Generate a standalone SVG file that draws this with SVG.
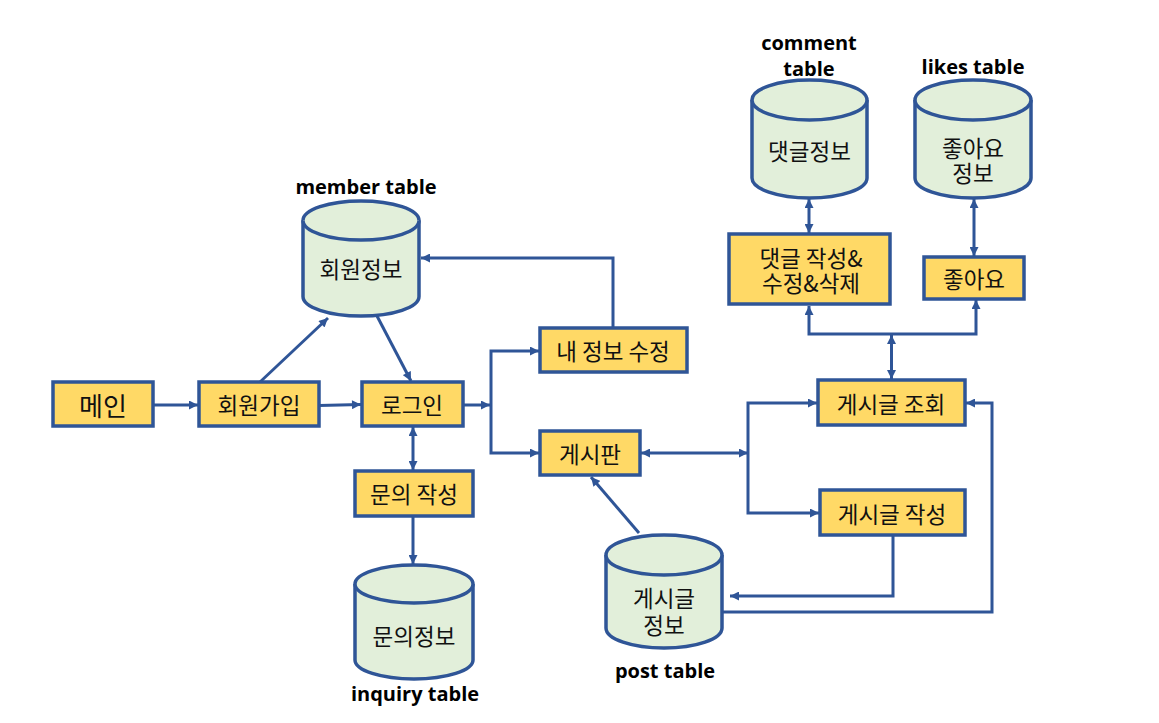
<svg xmlns="http://www.w3.org/2000/svg" width="1159" height="723" viewBox="0 0 1159 723">
<style>
.box{fill:#FFD966;stroke:#2F5597;stroke-width:3.5}
.cyl{fill:#E2EFDA;stroke:#2F5597;stroke-width:3.5}
.t{font-family:"Noto Sans CJK KR","Malgun Gothic",sans-serif;font-size:22.5px;fill:#111;text-anchor:middle;dominant-baseline:central}
.lbl{font-family:"Open Sans","Noto Sans",sans-serif;font-weight:bold;font-size:20px;fill:#000;text-anchor:middle;dominant-baseline:central}
.c{fill:none;stroke:#2F5597;stroke-width:3}
</style>
<defs>
<marker id="ah" viewBox="0 0 10 10" refX="10" refY="5" markerWidth="10" markerHeight="9" markerUnits="userSpaceOnUse" orient="auto-start-reverse">
<path d="M0,0 L10,5 L0,10 Z" fill="#2F5597"/>
</marker>
</defs>
<rect width="1159" height="723" fill="#fff"/>
<g id="connectors">
<path class="c" d="M153,405 H198" marker-end="url(#ah)"/>
<path class="c" d="M319,405.5 L361,404.5" marker-end="url(#ah)"/>
<path class="c" d="M260,382 L328,318" marker-end="url(#ah)"/>
<path class="c" d="M377,316 L411,381" marker-end="url(#ah)"/>
<path class="c" d="M463,405 H490" marker-end="url(#ah)"/>
<path class="c" d="M491,405 V351 H539" marker-end="url(#ah)"/>
<path class="c" d="M491,405 V453 H539" marker-end="url(#ah)"/>
<path class="c" d="M613,328 V258 H421" marker-end="url(#ah)"/>
<path class="c" d="M641,453 H748" marker-start="url(#ah)" marker-end="url(#ah)"/>
<path class="c" d="M748,453 V403 H817" marker-end="url(#ah)"/>
<path class="c" d="M748,453 V513 H819" marker-end="url(#ah)"/>
<path class="c" d="M893,535 V596 H730" marker-end="url(#ah)"/>
<path class="c" d="M722,612 H992 V403 H966" marker-end="url(#ah)"/>
<path class="c" d="M639,533 L591,477" marker-end="url(#ah)"/>
<path class="c" d="M413,427 V470" marker-start="url(#ah)" marker-end="url(#ah)"/>
<path class="c" d="M413,517 V564" marker-end="url(#ah)"/>
<path class="c" d="M891.5,335 V379" marker-start="url(#ah)" marker-end="url(#ah)"/>
<path class="c" d="M809,306 V334 H976 V300" marker-start="url(#ah)" marker-end="url(#ah)"/>
<path class="c" d="M809,199 V233" marker-start="url(#ah)" marker-end="url(#ah)"/>
<path class="c" d="M974,199 V256" marker-start="url(#ah)" marker-end="url(#ah)"/>
</g>
<g id="main">
<rect class="box" x="53" y="382" width="100" height="44"/>
<text class="t" x="103" y="404" style="font-size:26px">메인</text>
</g>
<g id="signup">
<rect class="box" x="199" y="382" width="120" height="44"/>
<text class="t" x="259" y="404">회원가입</text>
</g>
<g id="login">
<rect class="box" x="362" y="382" width="101" height="44"/>
<text class="t" x="412" y="404">로그인</text>
</g>
<g id="member-db">
<path class="cyl" d="M303,220.5 A58,19.5 0 0 1 419,220.5 V296.5 A58,19.5 0 0 1 303,296.5 Z"/>
<path class="cyl" d="M303,220.5 A58,19.5 0 0 0 419,220.5" fill="none"/>
<text class="t" x="361" y="268">회원정보</text>
<text class="lbl" x="366" y="186">member table</text>
</g>
<g id="edit-info">
<rect class="box" x="540" y="328" width="147" height="44"/>
<text class="t" x="613" y="350">내 정보 수정</text>
</g>
<g id="board">
<rect class="box" x="540" y="431" width="100" height="44"/>
<text class="t" x="590" y="453">게시판</text>
</g>
<g id="inquiry-write">
<rect class="box" x="355" y="471" width="118" height="45"/>
<text class="t" x="414" y="493">문의 작성</text>
</g>
<g id="inquiry-db">
<path class="cyl" d="M355,584 A59,19 0 0 1 473,584 V660 A59,19 0 0 1 355,660 Z"/>
<path class="cyl" d="M355,584 A59,19 0 0 0 473,584" fill="none"/>
<text class="t" x="414" y="635">문의정보</text>
<text class="lbl" x="415" y="693">inquiry table</text>
</g>
<g id="post-db">
<path class="cyl" d="M606,555 A58,20 0 0 1 722,555 V628 A58,20 0 0 1 606,628 Z"/>
<path class="cyl" d="M606,555 A58,20 0 0 0 722,555" fill="none"/>
<text class="t" x="664" y="597"><tspan x="664" y="597">게시글</tspan><tspan x="664" y="624">정보</tspan></text>
<text class="lbl" x="665" y="670">post table</text>
</g>
<g id="post-view">
<rect class="box" x="818" y="380" width="147" height="45"/>
<text class="t" x="891" y="403">게시글 조회</text>
</g>
<g id="post-write">
<rect class="box" x="820" y="490" width="145" height="45"/>
<text class="t" x="892" y="513">게시글 작성</text>
</g>
<g id="comment-edit">
<rect class="box" x="729" y="234" width="161" height="70"/>
<text class="t" x="811" y="257"><tspan x="811" y="257">댓글 작성&amp;</tspan><tspan x="811" y="282">수정&amp;삭제</tspan></text>
</g>
<g id="like">
<rect class="box" x="924" y="257" width="100" height="42"/>
<text class="t" x="974" y="278">좋아요</text>
</g>
<g id="comment-db">
<path class="cyl" d="M752,100 A57.5,20 0 0 1 867,100 V178 A57.5,20 0 0 1 752,178 Z"/>
<path class="cyl" d="M752,100 A57.5,20 0 0 0 867,100" fill="none"/>
<text class="t" x="809.5" y="150">댓글정보</text>
<text class="lbl" x="809" y="42"><tspan x="809" y="42">comment</tspan><tspan x="809" y="68">table</tspan></text>
</g>
<g id="likes-db">
<path class="cyl" d="M915,100 A58,20 0 0 1 1031,100 V178 A58,20 0 0 1 915,178 Z"/>
<path class="cyl" d="M915,100 A58,20 0 0 0 1031,100" fill="none"/>
<text class="t" x="973" y="147"><tspan x="973" y="147">좋아요</tspan><tspan x="973" y="172">정보</tspan></text>
<text class="lbl" x="973" y="66">likes table</text>
</g>
</svg>
